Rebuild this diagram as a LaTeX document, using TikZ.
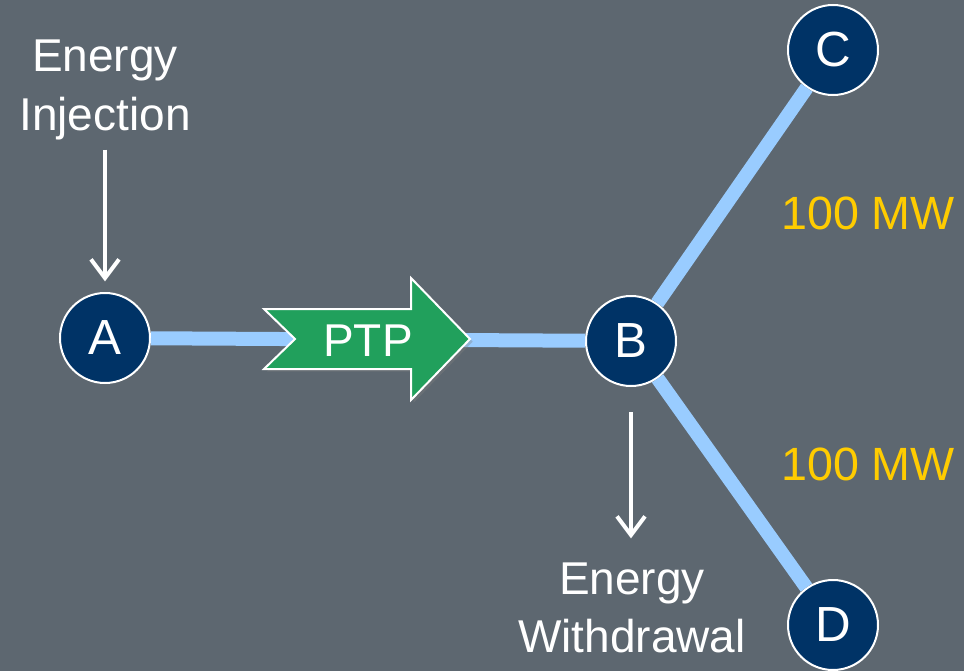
\documentclass[tikz,border=0pt]{standalone}
\usepackage{fontspec}
\setmainfont{Liberation Sans}
\usetikzlibrary{arrows.meta,shadows}
\definecolor{bgcol}{HTML}{5D6770}
\definecolor{buscol}{HTML}{003366}
\definecolor{linecol}{HTML}{99CCFF}
\definecolor{ptpcol}{HTML}{21A05C}
\definecolor{mwcol}{HTML}{FFCC00}

\begin{document}
\begin{tikzpicture}[
  x=0.75pt, y=-0.75pt,
  bus/.style={circle, draw=white, line width=1.5pt, fill=buscol, text=white,
    minimum size=67.5pt, inner sep=0pt, font=\fontsize{37}{44}\selectfont},
  tie/.style={linecol, line width=10.5pt},
  lbl/.style={text=white, align=center, inner sep=0pt, font=\fontsize{34.5}{44}\selectfont},
  mw/.style={text=mwcol, inner sep=0pt, font=\fontsize{35}{44}\selectfont},
  flow/.style={white, line width=3pt, -{Straight Barb[length=14pt, width=21pt, line width=3pt]}},
  ptparrow/.style={fill=ptpcol, draw=white, line width=1.5pt,
    drop shadow={shadow xshift=2pt, shadow yshift=-2pt, opacity=0.35}}
]
\fill[bgcol] (0,0) rectangle (964,671);
\useasboundingbox (0,0) rectangle (964,671);

% buses
\node[bus] (A) at (105,338) {A};
\node[bus] (B) at (631,341) {B};
\node[bus] (C) at (833,50) {C};
\node[bus] (D) at (833,625) {D};

\draw[tie] (A) -- (B);
\draw[tie] (B) -- (C);
\draw[tie] (B) -- (D);

% point-to-point transaction
\draw[ptparrow] (264,309) -- (411,309) -- (411,278) -- (470,339) -- (411,400)
  -- (411,369) -- (264,369) -- (295,339) -- cycle;
\node[lbl] (ptp) at (368,341) {PTP};

\node[lbl] (inj) at (105,90) {Energy\\Injection};
\draw[flow, shorten <=7pt, shorten >=8pt] (inj.south) -- (A.north);

\node[lbl] (wd) at (632,608) {Energy\\Withdrawal};
\draw[flow, shorten <=19pt, shorten >=18pt] (B.south) -- (B.south |- wd.north);

\node[mw] (mwBC) at (868,213) {100 MW};
\node[mw] (mwBD) at (868,464) {100 MW};
\end{tikzpicture}
\end{document}
